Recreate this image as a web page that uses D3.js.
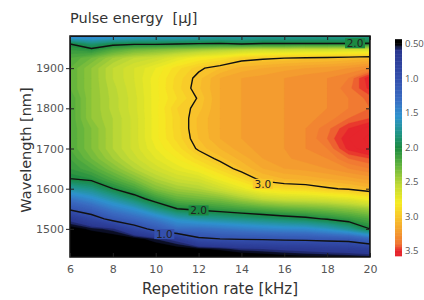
<!DOCTYPE html>
<html>
<head>
<meta charset="utf-8">
<script src="https://cdn.jsdelivr.net/npm/d3@7"></script>
<style>
  body { margin: 0; background: #fff; }
  text { font-family: "DejaVu Sans", sans-serif; }
</style>
</head>
<body>
<svg id="fig" width="424" height="300"></svg>
<script>
// grid: columns are repetition rates, rows are wavelengths (bottom to top)
const rates = [6, 7, 8, 9, 10, 11, 12, 13, 14, 15, 16, 17, 18, 19, 20];
const wavelengths = [1430, 1450, 1475, 1500, 1525, 1550, 1575, 1600, 1625, 1650, 1675, 1700,
                     1725, 1750, 1775, 1800, 1825, 1850, 1875, 1900, 1925, 1945, 1960, 1980];
const energy = [
  [0.20, 0.20, 0.25, 0.25, 0.30, 0.30, 0.35, 0.38, 0.40, 0.42, 0.45, 0.47, 0.48, 0.50, 0.52],
  [0.25, 0.30, 0.30, 0.35, 0.40, 0.45, 0.48, 0.52, 0.58, 0.60, 0.63, 0.65, 0.68, 0.70, 0.75],
  [0.35, 0.40, 0.42, 0.45, 0.55, 0.65, 0.95, 1.00, 1.02, 1.03, 1.05, 1.06, 1.08, 1.10, 1.25],
  [0.45, 0.52, 0.58, 0.85, 1.10, 1.30, 1.30, 1.35, 1.40, 1.45, 1.48, 1.50, 1.60, 1.75, 2.00],
  [0.65, 0.85, 1.10, 1.25, 1.40, 1.60, 1.70, 1.75, 1.80, 1.85, 1.90, 1.95, 2.02, 2.10, 2.20],
  [1.05, 1.20, 1.40, 1.55, 1.80, 2.00, 2.05, 2.10, 2.15, 2.20, 2.25, 2.28, 2.32, 2.38, 2.45],
  [1.35, 1.50, 1.70, 1.90, 2.10, 2.25, 2.30, 2.35, 2.45, 2.55, 2.60, 2.62, 2.65, 2.70, 2.80],
  [1.70, 1.80, 2.00, 2.15, 2.35, 2.45, 2.50, 2.60, 2.72, 2.85, 2.90, 2.92, 2.98, 3.02, 3.08],
  [2.00, 2.05, 2.20, 2.35, 2.50, 2.60, 2.65, 2.78, 2.90, 3.05, 3.10, 3.12, 3.15, 3.18, 3.22],
  [2.10, 2.20, 2.35, 2.50, 2.62, 2.72, 2.80, 2.92, 3.05, 3.15, 3.20, 3.22, 3.25, 3.30, 3.35],
  [2.15, 2.30, 2.45, 2.58, 2.70, 2.80, 2.92, 3.03, 3.12, 3.20, 3.24, 3.27, 3.30, 3.40, 3.45],
  [2.20, 2.35, 2.50, 2.62, 2.75, 2.87, 3.02, 3.10, 3.18, 3.22, 3.25, 3.30, 3.35, 3.52, 3.60],
  [2.20, 2.35, 2.50, 2.62, 2.78, 2.92, 3.05, 3.15, 3.20, 3.22, 3.25, 3.30, 3.40, 3.55, 3.62],
  [2.20, 2.35, 2.50, 2.62, 2.78, 2.93, 3.06, 3.15, 3.20, 3.22, 3.25, 3.30, 3.38, 3.50, 3.58],
  [2.20, 2.40, 2.50, 2.62, 2.78, 2.93, 3.06, 3.15, 3.20, 3.22, 3.25, 3.28, 3.32, 3.40, 3.45],
  [2.20, 2.40, 2.52, 2.63, 2.78, 2.95, 3.03, 3.15, 3.20, 3.22, 3.25, 3.28, 3.30, 3.35, 3.40],
  [2.20, 2.40, 2.52, 2.63, 2.78, 2.90, 3.01, 3.15, 3.20, 3.22, 3.25, 3.28, 3.30, 3.35, 3.42],
  [2.25, 2.40, 2.53, 2.64, 2.78, 2.93, 3.04, 3.15, 3.20, 3.22, 3.25, 3.28, 3.30, 3.38, 3.52],
  [2.25, 2.40, 2.55, 2.65, 2.78, 2.92, 3.03, 3.15, 3.20, 3.22, 3.25, 3.28, 3.30, 3.35, 3.55],
  [2.25, 2.40, 2.55, 2.65, 2.75, 2.88, 2.98, 3.05, 3.12, 3.15, 3.18, 3.20, 3.22, 3.25, 3.30],
  [2.20, 2.30, 2.45, 2.55, 2.60, 2.70, 2.80, 2.85, 2.95, 2.98, 3.00, 3.02, 3.03, 3.05, 3.08],
  [2.10, 2.05, 2.20, 2.30, 2.35, 2.40, 2.45, 2.50, 2.55, 2.60, 2.60, 2.62, 2.62, 2.65, 2.65],
  [2.00, 1.85, 1.95, 1.98, 1.98, 2.00, 2.02, 2.03, 2.00, 2.02, 2.02, 2.02, 2.02, 2.02, 2.02],
  [1.40, 1.40, 1.45, 1.50, 1.55, 1.55, 1.60, 1.65, 1.65, 1.70, 1.70, 1.72, 1.75, 1.75, 1.80]
];

const xTicks = [6, 8, 10, 12, 14, 16, 18, 20];
const yTicks = [1500, 1600, 1700, 1800, 1900];
const barTicks = [0.5, 1.0, 1.5, 2.0, 2.5, 3.0, 3.5];
const lineLevels = [1, 2, 3];
const contourLabels = [
  { text: "2.0", rate: 19.3, wl: 1962 },
  { text: "3.0", rate: 15.0, wl: 1612 },
  { text: "2.0", rate: 12.0, wl: 1546 },
  { text: "1.0", rate: 10.4, wl: 1487 }
];
const colorDomain = [0.5, 0.6, 1.0, 1.3, 1.55, 1.8, 2.0, 2.25, 2.55, 2.8, 3.0, 3.2, 3.4, 3.5];
const colorRange = ["#000000", "#2a3790", "#3450ad", "#3a6cc2", "#2f93cf", "#1f9585", "#1a8a42",
                    "#5fb23e", "#c2da35", "#f6ec22", "#f8c72a", "#f4a12e", "#f07532", "#e6252c"];

const svg = d3.select("#fig");
const margin = { left: 70, top: 36, right: 54, bottom: 43 };
const W = 424, H = 300;

const xSc = d3.scaleLinear().domain([6, 20]).range([margin.left, W - margin.right]);
const ySc = d3.scaleLinear().domain([1430, 1980]).range([H - margin.bottom, margin.top]);
const color = d3.scaleLinear().domain(colorDomain).range(colorRange).clamp(true);

const nx = rates.length, ny = wavelengths.length;
const gridX = d3.scaleLinear().domain([0.5, nx - 0.5]).range([rates[0], rates[nx - 1]]).clamp(true);
const gridY = d3.scaleLinear().domain(wavelengths.map((d, i) => i + 0.5)).range(wavelengths).clamp(true);

const values = energy.flat();
const proj = d3.geoTransform({
  point: function (x, y) { this.stream.point(xSc(gridX(x)), ySc(gridY(y))); }
});
const path = d3.geoPath(proj);

// filled contours
const fillLevels = d3.range(0, 3.8, 0.05);
const bands = d3.contours().size([nx, ny]).thresholds(fillLevels)(values);

svg.append("defs").append("clipPath").attr("id", "clip")
   .append("rect")
   .attr("x", xSc(6)).attr("y", ySc(1980))
   .attr("width", xSc(20) - xSc(6)).attr("height", ySc(1430) - ySc(1980));

const plot = svg.append("g").attr("clip-path", "url(#clip)");

plot.append("rect")
    .attr("x", xSc(6)).attr("y", ySc(1980))
    .attr("width", xSc(20) - xSc(6)).attr("height", ySc(1430) - ySc(1980))
    .attr("fill", "#000");

plot.selectAll("path.band")
    .data(bands)
    .enter()
    .append("path")
    .attr("class", "band")
    .attr("d", path)
    .attr("fill", d => color(d.value + 0.025))
    .attr("stroke", d => color(d.value + 0.025))
    .attr("stroke-width", 0.3);

// contour lines
const lines = d3.contours().size([nx, ny]).thresholds(lineLevels)(values);
plot.selectAll("path.line")
    .data(lines)
    .enter()
    .append("path")
    .attr("class", "line")
    .attr("d", path)
    .attr("fill", "none")
    .attr("stroke", "#111")
    .attr("stroke-width", 1.4);

// contour labels
const lab = plot.selectAll("g.lab")
    .data(contourLabels)
    .enter()
    .append("g")
    .attr("transform", d => `translate(${xSc(d.rate)},${ySc(d.wl)})`);
lab.append("rect")
   .attr("x", -10).attr("y", -5).attr("width", 20).attr("height", 10)
   .attr("fill", d => color(+d.text));
lab.append("text")
   .attr("text-anchor", "middle")
   .attr("dy", "0.36em")
   .attr("font-size", 10.5)
   .attr("fill", "#222")
   .text(d => d.text);

// frame
svg.append("rect")
   .attr("x", xSc(6)).attr("y", ySc(1980))
   .attr("width", xSc(20) - xSc(6)).attr("height", ySc(1430) - ySc(1980))
   .attr("fill", "none").attr("stroke", "#111").attr("stroke-width", 1.5);

// axes
svg.append("g").attr("transform", `translate(0,${ySc(1430)})`)
   .call(d3.axisBottom(xSc).tickValues(xTicks).tickSize(-4).tickPadding(8));
svg.append("g").attr("transform", `translate(0,${ySc(1980)})`)
   .call(d3.axisTop(xSc).tickValues(xTicks).tickSize(-4).tickFormat(""));
svg.append("g").attr("transform", `translate(${xSc(6)},0)`)
   .call(d3.axisLeft(ySc).tickValues(yTicks).tickSize(4).tickPadding(2).tickFormat(d3.format("d")));
svg.append("g").attr("transform", `translate(${xSc(6)},0)`)
   .call(d3.axisLeft(ySc).tickValues(yTicks).tickSize(-4).tickFormat(""));
svg.append("g").attr("transform", `translate(${xSc(20)},0)`)
   .call(d3.axisRight(ySc).tickValues(yTicks).tickSize(-4).tickFormat(""));

svg.selectAll(".domain").remove();
svg.selectAll(".tick line").attr("stroke", "#222").attr("stroke-width", 1);
svg.selectAll(".tick text").attr("font-size", 11).attr("fill", "#555")
   .attr("font-family", "DejaVu Sans, sans-serif");

// titles
svg.append("text").attr("x", 70).attr("y", 23)
   .attr("font-size", 14.5).attr("fill", "#333")
   .style("white-space", "pre")
   .text("Pulse energy  [\u03bcJ]");
svg.append("text").attr("x", 220).attr("y", 294)
   .attr("text-anchor", "middle").attr("font-size", 15).attr("fill", "#333")
   .text("Repetition rate [kHz]");
svg.append("text")
   .attr("transform", `translate(31,150) rotate(-90)`)
   .attr("text-anchor", "middle").attr("font-size", 14.5).attr("fill", "#333")
   .text("Wavelength [nm]");

// colour bar
const cb = d3.scaleLinear().domain([0.5, 3.5]).range([44, 251]);
const cbSteps = d3.range(0.43, 3.57, 0.02);
svg.selectAll("rect.cb")
   .data(cbSteps)
   .enter()
   .append("rect")
   .attr("class", "cb")
   .attr("x", 395).attr("width", 7)
   .attr("y", d => cb(d))
   .attr("height", cb(0.52) - cb(0.5) + 0.5)
   .attr("fill", d => color(d + 0.01));
svg.selectAll("text.cbl")
   .data(barTicks)
   .enter()
   .append("text")
   .attr("class", "cbl")
   .attr("x", 405).attr("y", d => cb(d))
   .attr("dy", "0.35em")
   .attr("font-size", 9.5).attr("fill", "#555")
   .style("font-family", "'Open Sans', sans-serif")
   .text(d => d === 0.5 ? "0.50" : d3.format(".1f")(d));
</script>
</body>
</html>
